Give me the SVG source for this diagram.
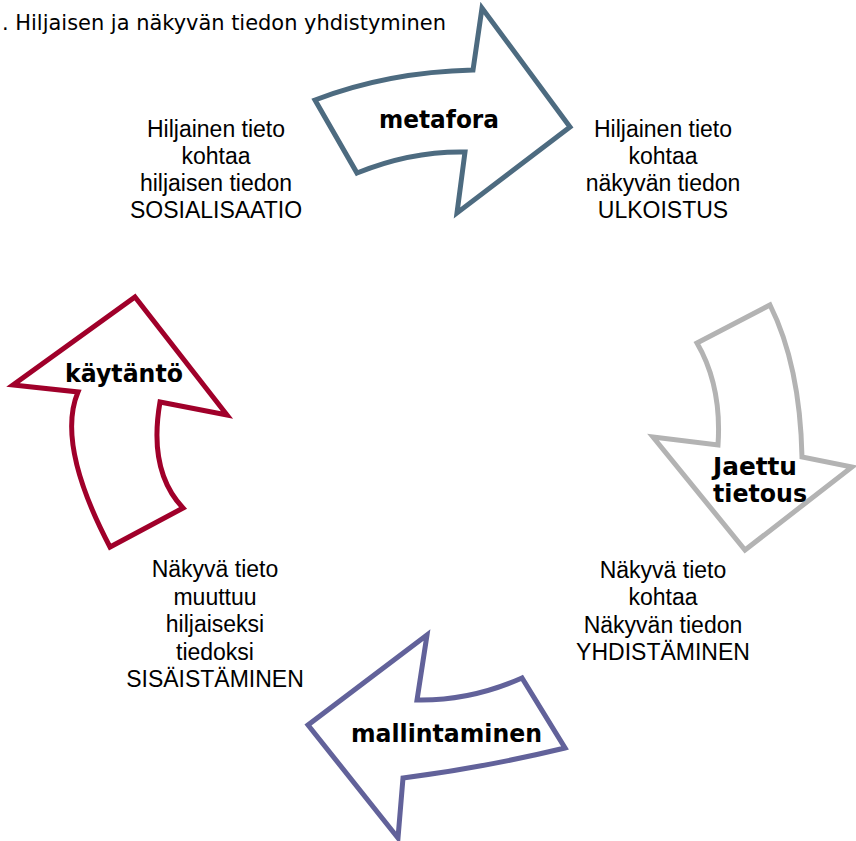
<svg xmlns="http://www.w3.org/2000/svg" width="856" height="841" viewBox="0 0 856 841">
<style>
.arrow{fill:#fff;stroke-width:5;stroke-linejoin:miter}
.lbl{font-family:"DejaVu Sans",Verdana,sans-serif;font-weight:bold;font-size:25px;fill:#000}
.body{font-family:"Liberation Sans",Arial,sans-serif;font-size:23px;fill:#000;text-anchor:middle}
.title{font-family:"DejaVu Sans",Verdana,sans-serif;font-size:20.5px;fill:#000}
</style>
<rect width="856" height="841" fill="#fff"/>
<text class="title" x="2" y="30" textLength="444" lengthAdjust="spacingAndGlyphs">. Hiljaisen ja näkyvän tiedon yhdistyminen</text>
<g id="connectors">
<g id="arrow-metafora">
<path class="arrow" stroke="#4D6B80" d="M315,100 Q388,72 473,70 L482,8 L570,127 L457,213 L465,152 Q411,151 357,173 Z"/>
<text class="lbl" x="379" y="128" textLength="120" lengthAdjust="spacingAndGlyphs">metafora</text>
</g>
<g id="arrow-jaettu">
<path class="arrow" stroke="#B3B3B3" d="M697,343 L770,305 Q800,365 802,457 L852,467 L745,550 L653,437 L718,445 Q722,386 697,343 Z"/>
<text class="lbl" x="713" y="475" textLength="84" lengthAdjust="spacingAndGlyphs">Jaettu</text>
<text class="lbl" x="713" y="502" textLength="94" lengthAdjust="spacingAndGlyphs">tietous</text>
</g>
<g id="arrow-mallintaminen">
<path class="arrow" stroke="#62629A" d="M427,635 L417,700 Q470,701 522,678 L565,748 Q482,768 403,778 L398,838 L308,725 Z"/>
<text class="lbl" x="351" y="742" textLength="191" lengthAdjust="spacingAndGlyphs">mallintaminen</text>
</g>
<g id="arrow-kaytanto">
<path class="arrow" stroke="#A0002A" d="M135,297 L227,415 L160,402 Q148,471 183,508 L110,547 Q56,444 78,392 L13,385 Z"/>
<text class="lbl" x="65" y="382" textLength="118" lengthAdjust="spacingAndGlyphs">käytäntö</text>
</g>
</g>
<g id="sosialisaatio">
<text class="body" x="216" y="137">Hiljainen tieto</text>
<text class="body" x="216" y="164">kohtaa</text>
<text class="body" x="216" y="191">hiljaisen tiedon</text>
<text class="body" x="216" y="218">SOSIALISAATIO</text>
</g>
<g id="ulkoistus">
<text class="body" x="663" y="137">Hiljainen tieto</text>
<text class="body" x="663" y="164">kohtaa</text>
<text class="body" x="663" y="191">näkyvän tiedon</text>
<text class="body" x="663" y="218">ULKOISTUS</text>
</g>
<g id="yhdistaminen">
<text class="body" x="663" y="578">Näkyvä tieto</text>
<text class="body" x="663" y="605">kohtaa</text>
<text class="body" x="663" y="633">Näkyvän tiedon</text>
<text class="body" x="663" y="660">YHDISTÄMINEN</text>
</g>
<g id="sisaistaminen">
<text class="body" x="215" y="577">Näkyvä tieto</text>
<text class="body" x="215" y="605">muuttuu</text>
<text class="body" x="215" y="632">hiljaiseksi</text>
<text class="body" x="215" y="660">tiedoksi</text>
<text class="body" x="215" y="687">SISÄISTÄMINEN</text>
</g>
</svg>
